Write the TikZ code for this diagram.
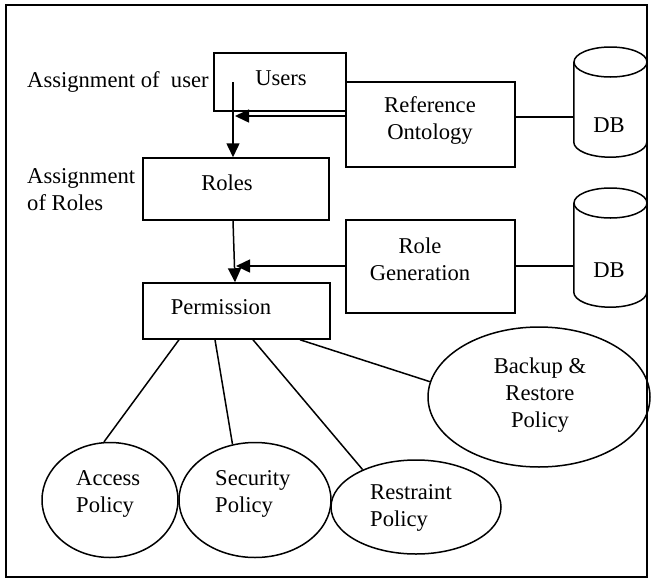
\documentclass[tikz,border=0pt]{standalone}
\usepackage{fontspec}
\setmainfont{Liberation Serif}
\usetikzlibrary{arrows.meta,shapes.geometric,calc}
\tikzset{
  box/.style={draw,line width=1.5pt,rectangle,inner sep=0pt},
  oval/.style={draw,line width=1.5pt,ellipse,inner sep=0pt},
  txt/.style={inner sep=0pt,align=center,font=\fontsize{22.6}{27}\selectfont},
  ltxt/.style={inner sep=0pt,align=left,font=\fontsize{22.6}{27}\selectfont},
  con/.style={line width=1.5pt},
  arr/.style={line width=1.5pt,-{Triangle[length=14pt,width=13pt]}},
  cyl/.style={line width=1.5pt}
}
\begin{document}
\begin{tikzpicture}[x=1pt,y=-1pt]
\useasboundingbox (0,0) rectangle (651,579);
% outer frame
\node[draw,line width=1.8pt,rectangle,inner sep=0pt,minimum width=641pt,minimum height=572pt] (frame) at (326.5,291) {};
% boxes
\node[box,minimum width=132pt,minimum height=58pt] (users) at (280,82) {};
\node[box,minimum width=169pt,minimum height=85pt] (ref) at (430.5,124.5) {};
\node[box,minimum width=186pt,minimum height=62pt] (roles) at (236,189) {};
\node[box,minimum width=169pt,minimum height=93pt] (rg) at (430.5,266.5) {};
\node[box,minimum width=187pt,minimum height=56pt] (perm) at (236.5,311) {};
% texts in boxes
\node[txt] (tusers) at (281,78) {Users};
\node[txt] (tref) at (430,120) {Reference\\Ontology};
\node[txt] (troles) at (227,183) {Roles};
\node[txt] (trg) at (420,259) {Role\\Generation};
\node[txt] (tperm) at (221,307) {Permission};
% side labels
\node[ltxt,anchor=west] (la1) at (27,82) {Assignment of\ \ user};
\node[ltxt,anchor=west] (la2) at (27,190) {Assignment\\of Roles};
% cylinders
\node[inner sep=0pt,minimum width=73pt,minimum height=80pt] (cyl1) at (610.5,102) {};
\draw[cyl] (610.5,62) ellipse [x radius=36.5,y radius=15];
\draw[cyl] (cyl1.north west) -- (cyl1.south west) arc[start angle=180,end angle=0,x radius=36.5,y radius=15] -- (cyl1.north east);
\node[txt] (db1) at (609,125) {DB};
\node[inner sep=0pt,minimum width=73pt,minimum height=89pt] (cyl2) at (610.5,247.5) {};
\draw[cyl] (610.5,203) ellipse [x radius=36.5,y radius=15];
\draw[cyl] (cyl2.north west) -- (cyl2.south west) arc[start angle=180,end angle=0,x radius=36.5,y radius=15] -- (cyl2.north east);
\node[txt] (db2) at (609,270) {DB};
% ellipses
\node[oval,minimum width=222pt,minimum height=140pt] (backup) at (539,397) {};
\node[oval,minimum width=136pt,minimum height=115pt] (access) at (110,500) {};
\node[oval,minimum width=152pt,minimum height=115pt] (security) at (255,500) {};
\node[oval,minimum width=170pt,minimum height=94pt] (restraint) at (416,507) {};
\node[txt] (tbackup) at (540,395) {Backup \&\\Restore\\Policy};
\node[ltxt,anchor=west] (taccess) at (76,494) {Access\\Policy};
\node[ltxt,anchor=west] (tsecurity) at (215,494) {Security\\Policy};
\node[ltxt,anchor=west] (trestraint) at (370,508) {Restraint\\Policy};
% connectors
\coordinate (u1) at (233,82);
\draw[arr] (u1) -- (u1 |- roles.north);
\coordinate (j1) at (235,116);
\draw[arr] (ref.west |- j1) -- (j1);
\draw[arr] (roles.south -| u1) -- (perm.north -| j1);
\coordinate (j2) at (236,266);
\draw[arr] (rg.west |- j2) -- (j2);
\coordinate (k1) at (0,117);
\draw[con] (ref.east |- k1) -- (cyl1.west |- k1);
\draw[con] (rg.east |- j2) -- (cyl2.west |- j2);
\coordinate (p1) at (179,0);
\coordinate (p2) at (215,0);
\coordinate (p3) at (253,0);
\coordinate (p4) at (300,0);
\draw[con] (perm.south -| p1) -- (access.96);
\draw[con] (perm.south -| p2) -- (security.112);
\draw[con] (perm.south -| p3) -- (restraint.145);
\draw[con] (perm.south -| p4) -- (backup.172.7);
\end{tikzpicture}
\end{document}
